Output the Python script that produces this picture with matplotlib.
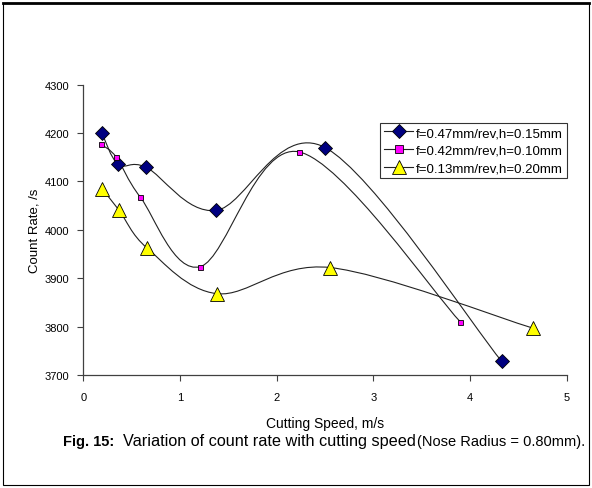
import matplotlib.pyplot as plt
import numpy as np
from matplotlib.path import Path
from matplotlib.patches import PathPatch, Rectangle
from matplotlib.lines import Line2D

plt.rcParams['font.family'] = ['Liberation Sans', 'DejaVu Sans']

# data
speed_a = [0.19, 0.36, 0.65, 1.37, 2.50, 4.33]
rate_a = [4200, 4135, 4129, 4040, 4170, 3728]
speed_b = [0.18, 0.34, 0.59, 1.21, 2.23, 3.90]
rate_b = [4177, 4150, 4067, 3924, 4161, 3810]
speed_c = [0.19, 0.37, 0.66, 1.385, 2.555, 4.65]
rate_c = [4085, 4040, 3962, 3868, 3922, 3797]
labels = ["f=0.47mm/rev,h=0.15mm", "f=0.42mm/rev,h=0.10mm", "f=0.13mm/rev,h=0.20mm"]


def smooth_path(x, y):
    # excel-style smoothed line: cubic bezier through the points
    p = np.column_stack([x, y]).astype(float)
    n = len(p)
    verts = [p[0]]
    codes = [Path.MOVETO]
    for i in range(n - 1):
        p0 = p[i - 1] if i > 0 else p[i]
        p3 = p[i + 2] if i + 2 < n else p[i + 1]
        c1 = p[i] + (p[i + 1] - p0) / 6.0
        c2 = p[i + 1] - (p3 - p[i]) / 6.0
        verts += [c1, c2, p[i + 1]]
        codes += [Path.CURVE4] * 3
    return Path(verts, codes)


fig = plt.figure(figsize=(5.92, 4.89), dpi=100)
ax = fig.add_axes([0.141, 0.231, 0.816, 0.594])

series = [
    (speed_a, rate_a, 'D', '#000080', 7),
    (speed_b, rate_b, 's', '#FF00FF', 3.6),
    (speed_c, rate_c, '^', '#FFFF00', 10),
]
handles = []
for (sx, sy, mk, col, ms), lab in zip(series, labels):
    ax.add_patch(PathPatch(smooth_path(sx, sy), fill=False, ec='#222222', lw=0.8, zorder=2))
    ax.plot(sx, sy, ls='none', marker=mk, ms=ms, mfc=col, mec='black', mew=0.6, zorder=3)
    handles.append(Line2D([], [], color='#222222', lw=0.8, marker=mk,
                          ms=ms if mk != 's' else 6, mfc=col, mec='black', mew=0.6, label=lab))

ax.set_xlim(0, 5)
ax.set_ylim(3700, 4300)
ax.set_xticks(range(0, 6))
ax.set_yticks(range(3700, 4301, 100))
for s in ['top', 'right']:
    ax.spines[s].set_visible(False)
for s in ['left', 'bottom']:
    ax.spines[s].set_color('#404040')
    ax.spines[s].set_linewidth(0.9)
ax.tick_params(direction='out', length=4, width=0.8, color='#404040', labelsize=8, pad=6)
ax.tick_params(axis='x', pad=8)
ax.set_xlabel("Cutting Speed, m/s", fontsize=10, labelpad=10)
ax.set_ylabel("Count Rate, /s", fontsize=9.5, labelpad=3)

leg = ax.legend(handles=handles, loc='upper left', bbox_to_anchor=(0.614, 0.868),
                fontsize=9.5, frameon=True, fancybox=False, handlelength=2.2,
                handletextpad=0.2, borderpad=0.3, labelspacing=0.4, borderaxespad=0)
leg.get_frame().set_edgecolor('black')
leg.get_frame().set_linewidth(0.8)

cap_y = 1 - 442 / 489
fig.text(63 / 592, cap_y, "Fig. 15:", fontsize=10.5, fontweight='bold', va='center')
fig.text(123 / 592, cap_y, "Variation of count rate with cutting speed", fontsize=11.7, va='center')
fig.text(417 / 592, cap_y, "(Nose Radius = 0.80mm).", fontsize=10.5, va='center')

# outer frame
fig.patches.append(Rectangle((3 / 592, 3 / 489), 586 / 592, 482 / 489, transform=fig.transFigure,
                             fill=False, ec='black', lw=0.8))
fig.lines.append(Line2D([3 / 592, 589 / 592], [1 - 4 / 489, 1 - 4 / 489], transform=fig.transFigure,
                        color='black', lw=2))

fig.savefig("out.png", dpi=100)
